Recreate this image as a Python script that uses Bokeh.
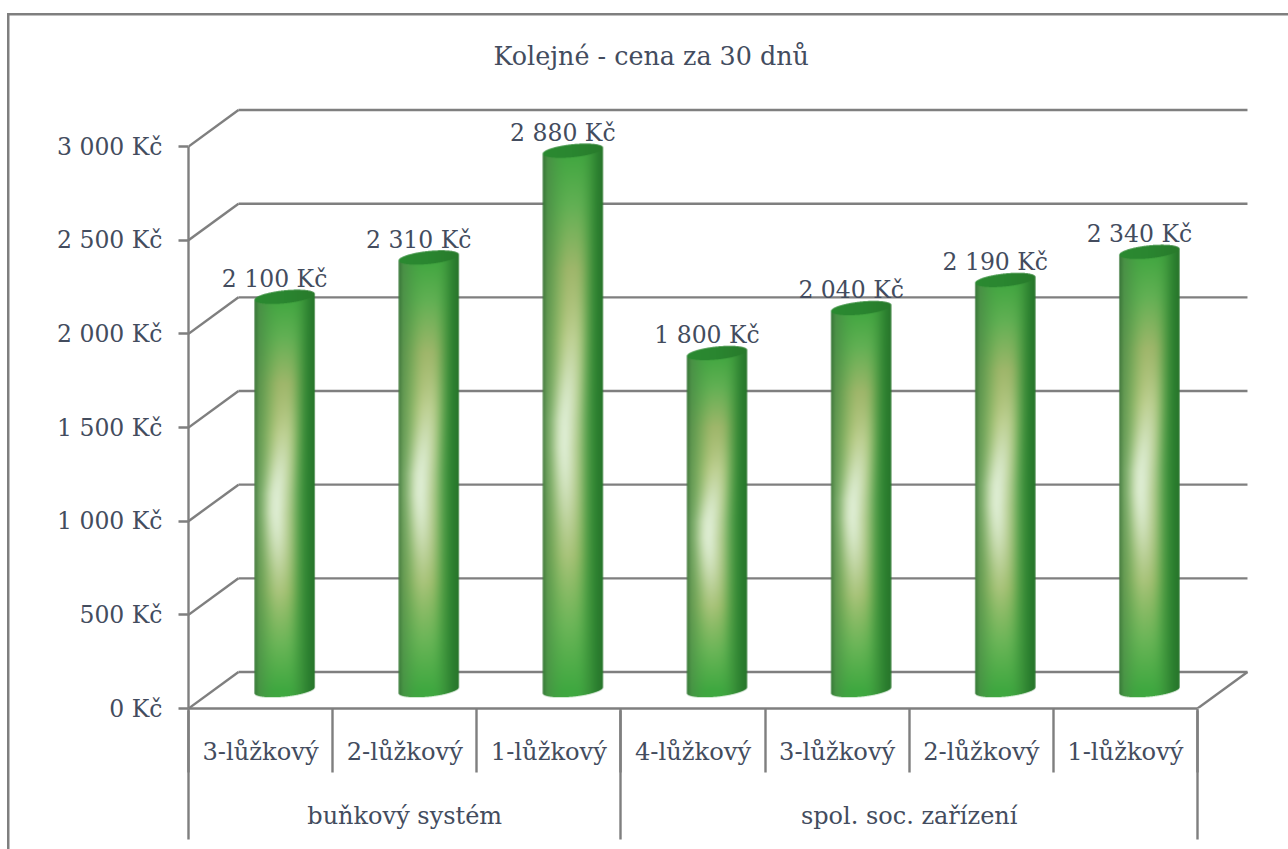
import numpy as np
from bokeh.plotting import figure
from bokeh.embed import file_html
from bokeh.resources import INLINE
from bokeh.core.properties import value
from bokeh.models import (ColumnDataSource, FixedTicker, LinearAxis,
                          Range1d, Title)

title_text = "Kolejné - cena za 30 dnů"
groups = ["buňkový systém", "spol. soc. zařízení"]
group_sizes = [3, 4]
categories = ["3-lůžkový", "2-lůžkový", "1-lůžkový", "4-lůžkový", "3-lůžkový", "2-lůžkový", "1-lůžkový"]
values = [2100, 2310, 2880, 1800, 2040, 2190, 2340]
y_ticks = [0, 500, 1000, 1500, 2000, 2500, 3000]
y_tick_labels = ["0 Kč", "500 Kč", "1 000 Kč", "1 500 Kč", "2 000 Kč", "2 500 Kč", "3 000 Kč"]
value_labels = ["2 100 Kč", "2 310 Kč", "2 880 Kč", "1 800 Kč", "2 040 Kč", "2 190 Kč", "2 340 Kč"]

WIDTH, HEIGHT = 1288, 849
FRAME_LEFT, FRAME_TOP, FRAME_BOTTOM = 188, 90, 141
PX_X = 144.14              # pixels per category
PX_Y = 0.18733             # pixels per Kč
DEPTH_X = 50 / PX_X        # floor depth, in data units
DEPTH_Y = 36.5 / PX_Y
GREY = "#7f7f7f"
TEXT = "#434c5e"
FONT = "DejaVu Serif"
LW = 2.4

frame_w = WIDTH - FRAME_LEFT
frame_h = HEIGHT - FRAME_TOP - FRAME_BOTTOM

# the chart's outer frame: its left and top sides, behind a transparent canvas
rule = f"linear-gradient({GREY},{GREY})"
frame_css = {
    "background-color": "white",
    "background-image": f"{rule},{rule}",
    "background-repeat": "no-repeat",
    "background-size": "2.5px 836px, 1281px 2.5px",
    "background-position": "7px 13px, 7px 13px",
}

p = figure(width=WIDTH, height=HEIGHT, output_backend="svg", toolbar_location=None,
           x_axis_type=None, y_axis_type=None,
           x_range=Range1d(0, frame_w / PX_X), y_range=Range1d(0, frame_h / PX_Y),
           min_border_left=FRAME_LEFT, min_border_right=0,
           min_border_top=FRAME_TOP, min_border_bottom=FRAME_BOTTOM,
           outline_line_color=None, background_fill_color=None, border_fill_color=None,
           title=None, styles=frame_css)

p.add_layout(Title(text=title_text, align="left", offset=305, standoff=40,
                   text_font=FONT, text_font_size="25.4px", text_font_style="normal",
                   text_color=TEXT), "above")

# value axis
yax = LinearAxis(ticker=FixedTicker(ticks=y_ticks), bounds=(0, max(y_ticks)),
                 major_label_overrides=dict(zip(y_ticks, y_tick_labels)),
                 major_label_text_font=FONT, major_label_text_font_size="23.5px",
                 major_label_text_color=TEXT, major_label_standoff=16,
                 major_tick_out=10, major_tick_in=0, minor_tick_out=0, minor_tick_in=0,
                 major_tick_line_color=GREY, major_tick_line_width=LW,
                 axis_line_color=GREY, axis_line_width=LW)
p.add_layout(yax, "left")

# category axes
n = len(categories)
dividers = list(range(n + 1))
centres = [i + 0.5 for i in range(n)]
group_edges = [0] + list(np.cumsum(group_sizes))
group_centres = [(group_edges[i] + group_edges[i + 1]) / 2 for i in range(len(groups))]

xax = LinearAxis(ticker=FixedTicker(ticks=centres, minor_ticks=dividers), bounds=(0, n),
                 major_label_overrides=dict(zip(centres, categories)),
                 major_label_text_font=FONT, major_label_text_font_size="24.2px",
                 major_label_text_color=TEXT, major_label_standoff=-35,
                 major_label_orientation="horizontal",
                 major_tick_out=0, major_tick_in=0, major_tick_line_color=None,
                 minor_tick_out=64, minor_tick_in=0, minor_tick_line_color=GREY, minor_tick_line_width=LW,
                 axis_line_color=GREY, axis_line_width=LW)
p.add_layout(xax, "below")
gax = LinearAxis(ticker=FixedTicker(ticks=group_centres, minor_ticks=[int(e) for e in group_edges]), bounds=(0, n),
                 major_label_overrides=dict(zip(group_centres, groups)),
                 major_label_text_font=FONT, major_label_text_font_size="24px",
                 major_label_text_color=TEXT, major_label_standoff=-38,
                 major_label_orientation="horizontal",
                 major_tick_out=0, major_tick_in=0, major_tick_line_color=None,
                 minor_tick_out=71, minor_tick_in=58, minor_tick_line_color=GREY, minor_tick_line_width=LW,
                 axis_line_color=None)
p.add_layout(gax, "below")

# back wall and side wall
xmax_back = n + DEPTH_X
p.segment(x0=[DEPTH_X] * len(y_ticks), x1=[xmax_back] * len(y_ticks),
          y0=[t + DEPTH_Y for t in y_ticks], y1=[t + DEPTH_Y for t in y_ticks],
          line_color=GREY, line_width=LW)
p.segment(x0=[0] * len(y_ticks), x1=[DEPTH_X] * len(y_ticks),
          y0=y_ticks, y1=[t + DEPTH_Y for t in y_ticks], line_color=GREY, line_width=LW)
p.segment(x0=[n], x1=[xmax_back], y0=[0], y1=[DEPTH_Y], line_color=GREY, line_width=LW)


def hex_rgb(h):
    return np.array([int(h[i:i + 2], 16) for i in (1, 3, 5)], dtype=float)


def ramp(t, stops):
    xs = [s[0] for s in stops]
    cols = np.array([hex_rgb(s[1]) for s in stops])
    return np.stack([np.interp(t, xs, cols[:, k]) for k in range(3)], axis=-1)


BASE_U = [(0, "#356f36"), (.08, "#4a8c46"), (.5, "#46aa44"), (.78, "#388f38"), (.9, "#2c8030"), (1, "#28752b")]
OLIVE_V = [(0, "#3fa840"), (.12, "#6bb557"), (.25, "#9dbb68"), (.35, "#a8c078"), (.5, "#b0c888"),
           (.65, "#b0c478"), (.78, "#9db568"), (.9, "#62b054"), (1, "#3fa63f")]
OLIVE_C = ([0, .5, 1], [.42, .42, .5])
WHITE_C = ([.3, .45, .5, .6, .7], [.40, .36, .37, .45, .52])
WHITE = hex_rgb("#dcecd0")
LID_U = [(0, "#2a8a30"), (.5, "#2a8630"), (1, "#287a2b")]


def cylinder(height_px, half_w=30.2, tilt=3.0, b=6.5, ss=3):
    """RGBA image (row 0 at the bottom) of one shaded cylinder."""
    margin = int(np.ceil(b + tilt)) + 1
    H = int(np.ceil(height_px)) + 2 * margin
    W = int(np.ceil(2 * half_w)) + 2
    ys = (np.arange(H * ss) + .5) / ss - margin
    xs = (np.arange(W * ss) + .5) / ss - W / 2
    X, Y = np.meshgrid(xs, ys)
    s = X / half_w
    inside = np.abs(s) <= 1
    root = np.sqrt(np.clip(1 - s ** 2, 0, 1))
    ybot = tilt * s - b * root
    ytop = height_px + tilt * s
    lid = inside & (np.abs(Y - ytop) <= b * root)
    body = inside & (Y >= ybot) & (Y <= ytop) & ~lid
    u = (s + 1) / 2
    v = np.clip(Y / height_px, 0, 1)
    col = ramp(u, BASE_U)
    c1 = np.interp(v, *OLIVE_C)
    d1 = np.abs(u - c1)
    m1 = np.where(u < c1, np.exp(-(d1 / .32) ** 2), np.exp(-(d1 / .29) ** 3))[..., None]
    col = col * (1 - m1) + ramp(v, OLIVE_V) * m1
    c2 = np.interp(v, *WHITE_C)
    m2 = (np.exp(-((u - c2) / .18) ** 2) * np.exp(-((v - .47) / .17) ** 2))[..., None]
    col = col * (1 - m2) + WHITE * m2
    col[lid] = ramp(u, LID_U)[lid]
    alpha = (body | lid).astype(float)
    prem = (col * alpha[..., None]).reshape(H, ss, W, ss, 3).mean(axis=(1, 3))
    a = alpha.reshape(H, ss, W, ss).mean(axis=(1, 3))
    rgb = prem / np.maximum(a, 1e-6)[..., None]
    img = np.zeros((H, W, 4), dtype=np.uint8)
    img[..., :3] = np.clip(rgb, 0, 255).astype(np.uint8)
    img[..., 3] = (a * 255).astype(np.uint8)
    return img.view(dtype=np.uint32).reshape(H, W), margin, W, H


BAR_DX = 24 / PX_X     # cylinders stand half-way into the floor depth
BAR_DY = DEPTH_Y / 2
for i, v_ in enumerate(values):
    img, margin, W, H = cylinder(v_ * PX_Y)
    p.image_rgba(image=[img], x=[i + .5 + BAR_DX - (W / 2) / PX_X], y=[BAR_DY - margin / PX_Y],
                 dw=[W / PX_X], dh=[H / PX_Y])

src = ColumnDataSource(dict(x=[c + BAR_DX for c in centres],
                            y=[v_ + BAR_DY for v_ in values], t=value_labels))
p.text(x="x", y="y", text="t", source=src, x_offset=-10, y_offset=-18,
       text_align="center", text_baseline="middle",
       text_font=value(FONT), text_font_size="23.5px", text_color=TEXT)

open("out.html", "w").write(file_html(p, INLINE))
